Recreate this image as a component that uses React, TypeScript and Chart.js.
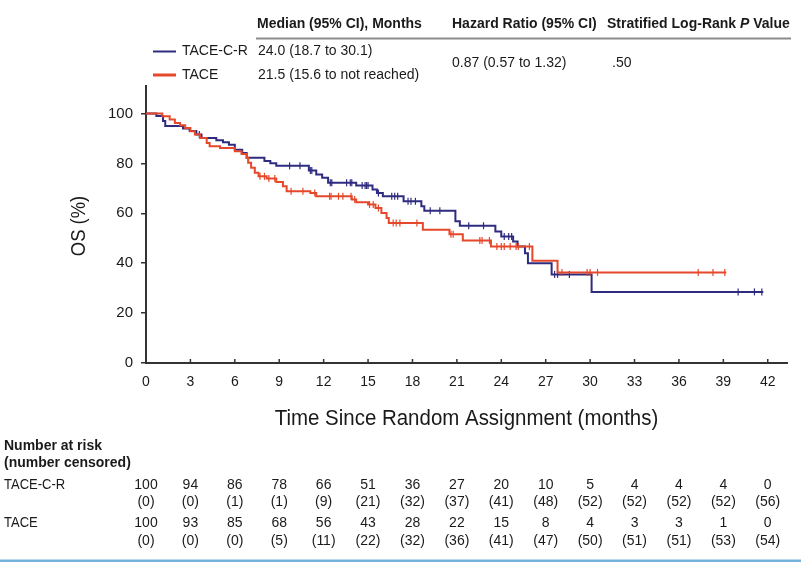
import React, { useEffect, useRef } from "react";
import { Chart, registerables } from "chart.js";

Chart.register(...registerables);

const FONT = "'Liberation Sans', Arial, Helvetica, sans-serif";
const BLUE = "#2f2c80";
const RED = "#e5482a";
const AXIS = "#333333";
const TEXT = "#1a1a1a";

// Kaplan-Meier steps: time (months) and OS (%) after each drop
const tacecrTimes = [0, 0.7, 1.15, 1.3, 2.5, 2.95, 3.4, 3.75, 4.75, 5.2, 5.6, 6.0, 6.5, 6.8, 8.0, 8.4, 8.8, 11.0, 11.5, 11.9, 12.3, 14.2, 15.3, 15.6, 16.0, 17.4, 18.6, 18.8, 20.9, 21.2, 23.6, 24.0, 24.8, 25.1, 25.6, 25.8, 27.4, 30.1, 41.7];
const tacecrSurv = [100, 99, 97, 95, 94, 93, 91.6, 90.2, 89.3, 88.5, 87.5, 85.5, 84.2, 82.2, 80.9, 80, 79, 77.1, 75.5, 74.2, 72.2, 71.1, 69.5, 68.1, 66.8, 64.8, 62.8, 61, 56.8, 55, 52.7, 50.7, 48.7, 46.7, 44, 40, 35.5, 28.5, 28.5];
const tacecrCensorTimes = [3.6, 9.7, 10.4, 11.1, 11.2, 12.45, 12.55, 13.55, 13.8, 13.9, 14.6, 14.8, 14.9, 15.0, 15.7, 16.6, 16.8, 17.0, 17.7, 17.9, 18.2, 19.2, 19.85, 21.8, 22.8, 24.2, 24.5, 24.7, 27.6, 27.8, 28.6, 40.0, 41.1, 41.6];

const taceTimes = [0, 1.1, 1.6, 1.95, 2.3, 2.65, 3.0, 3.3, 3.65, 4.1, 4.3, 5.0, 6.0, 6.45, 6.8, 6.9, 7.1, 7.35, 7.6, 8.15, 8.8, 9.25, 9.5, 11.1, 11.5, 13.9, 14.2, 15.0, 15.5, 15.9, 16.25, 16.4, 18.7, 20.5, 21.4, 23.3, 26.1, 27.8, 39.2];
const taceSurv = [100, 98.9, 97.6, 96.2, 95.3, 94.2, 92.9, 91.6, 90.2, 88.2, 86.9, 86.2, 84.9, 83.8, 82.2, 80.2, 78.2, 76.2, 74.8, 73.9, 72.5, 70.8, 68.8, 68.1, 66.8, 65.5, 64.4, 63.5, 62.1, 60.1, 58.1, 56.1, 53.4, 51.6, 49.1, 46.7, 41, 36.3, 36.3];
const taceCensorTimes = [7.7, 8.0, 8.3, 8.7, 9.8, 10.6, 11.4, 12.4, 12.5, 13.0, 13.3, 13.85, 14.1, 15.1, 15.35, 15.7, 16.7, 16.9, 17.15, 18.3, 20.6, 20.75, 22.55, 22.7, 23.2, 23.7, 24.0, 24.2, 24.6, 25.0, 25.15, 25.9, 28.1, 29.8, 30.0, 30.5, 37.3, 38.3, 39.1];

// Number at risk table
const riskTimes = [0, 3, 6, 9, 12, 15, 18, 21, 24, 27, 30, 33, 36, 39, 42];
const tacecrRisk = [100, 94, 86, 78, 66, 51, 36, 27, 20, 10, 5, 4, 4, 4, 0];
const tacecrCensored = [0, 0, 1, 1, 9, 21, 32, 37, 41, 48, 52, 52, 52, 52, 56];
const taceRisk = [100, 93, 85, 68, 56, 43, 28, 22, 15, 8, 4, 3, 3, 1, 0];
const taceCensored = [0, 0, 0, 5, 11, 22, 32, 36, 41, 47, 50, 51, 51, 53, 54];

const seriesNames = ["TACE-C-R", "TACE"];
const medians = ["24.0 (18.7 to 30.1)", "21.5 (15.6 to not reached)"];
const hazardRatio = "0.87 (0.57 to 1.32)";
const pValue = ".50";

function stepAt(times: number[], surv: number[], t: number) {
  let s = surv[0];
  for (let i = 0; i < times.length; i++) if (times[i] <= t) s = surv[i];
  return s;
}

function txt(ctx: CanvasRenderingContext2D, s: string, x: number, y: number, font: string, align: CanvasTextAlign = "left", color = TEXT, sx = 1) {
  ctx.save();
  ctx.translate(x, y);
  ctx.scale(sx, 1);
  ctx.font = font;
  ctx.fillStyle = color;
  ctx.textAlign = align;
  ctx.textBaseline = "middle";
  ctx.fillText(s, 0, 0);
  ctx.restore();
}

const decorPlugin = {
  id: "decor",
  afterDraw(chart: any) {
    const ctx: CanvasRenderingContext2D = chart.ctx;
    const xs = chart.scales.x;
    const area = chart.chartArea;
    const bold = `bold 14px ${FONT}`;
    const reg = `14px ${FONT}`;

    // header
    txt(ctx, "Median (95% CI), Months", 257, 24, bold);
    txt(ctx, "Hazard Ratio (95% CI)", 452, 24, bold);
    ctx.save();
    ctx.font = bold;
    let px = 607;
    const p1 = "Stratified Log-Rank ";
    txt(ctx, p1, px, 24, bold);
    px += ctx.measureText(p1).width;
    ctx.font = `italic bold 14px ${FONT}`;
    txt(ctx, "P", px, 24, `italic bold 14px ${FONT}`);
    px += ctx.measureText("P").width;
    txt(ctx, " Value", px, 24, bold);
    ctx.restore();
    ctx.fillStyle = "#8c8c8c";
    ctx.fillRect(256, 37.5, 535, 2);

    // legend rows
    const rowsY = [51.5, 75];
    const cols = [BLUE, RED];
    const lw = [2, 3];
    for (let i = 0; i < 2; i++) {
      ctx.strokeStyle = cols[i];
      ctx.lineWidth = lw[i];
      ctx.beginPath();
      ctx.moveTo(153, rowsY[i]);
      ctx.lineTo(176, rowsY[i]);
      ctx.stroke();
      txt(ctx, seriesNames[i], 182, rowsY[i], reg);
      txt(ctx, medians[i], 258, rowsY[i], reg);
    }
    txt(ctx, hazardRatio, 452, 63, reg);
    txt(ctx, pValue, 612, 63, reg);

    // inward x ticks
    ctx.strokeStyle = AXIS;
    ctx.lineWidth = 1.5;
    xs.ticks.forEach((t: any) => {
      const x = xs.getPixelForValue(t.value);
      ctx.beginPath();
      ctx.moveTo(x, area.bottom);
      ctx.lineTo(x, area.bottom - 4);
      ctx.stroke();
    });

    // axis titles
    txt(ctx, "Time Since Random Assignment (months)", (area.left + area.right) / 2, 419, `22px ${FONT}`, "center", TEXT, 0.93);
    ctx.save();
    ctx.translate(79, 226);
    ctx.rotate(-Math.PI / 2);
    txt(ctx, "OS (%)", 0, 0, `20px ${FONT}`, "center", TEXT, 0.92);
    ctx.restore();

    // risk table
    txt(ctx, "Number at risk", 4, 446, bold);
    txt(ctx, "(number censored)", 4, 463, bold);
    txt(ctx, seriesNames[0], 4, 485, reg, "left", TEXT, 0.93);
    txt(ctx, seriesNames[1], 4, 523, reg, "left", TEXT, 0.93);
    riskTimes.forEach((t, i) => {
      const x = xs.getPixelForValue(t);
      txt(ctx, String(tacecrRisk[i]), x, 485, reg, "center");
      txt(ctx, `(${tacecrCensored[i]})`, x, 502, reg, "center");
      txt(ctx, String(taceRisk[i]), x, 523, reg, "center");
      txt(ctx, `(${taceCensored[i]})`, x, 541, reg, "center");
    });

    // bottom rule
    ctx.fillStyle = "#74b4dc";
    ctx.fillRect(0, 559.5, 801, 2.5);
  },
};

export default function App() {
  const ref = useRef<HTMLCanvasElement>(null);
  useEffect(() => {
    if (!ref.current) return;
    Chart.defaults.font.family = FONT;
    const lineDs = (label: string, times: number[], surv: number[], color: string, order: number) => ({
      type: "line" as const,
      label,
      data: times.map((t, i) => ({ x: t, y: surv[i] })),
      stepped: true,
      borderColor: color,
      borderWidth: 2,
      pointRadius: 0,
      fill: false,
      order,
    });
    const censDs = (label: string, ct: number[], times: number[], surv: number[], color: string, order: number) => ({
      type: "scatter" as const,
      label,
      data: ct.map((t) => ({ x: t, y: stepAt(times, surv, t) })),
      showLine: false,
      pointStyle: "line",
      pointRotation: 90,
      pointRadius: 3.5,
      pointBorderColor: color,
      pointBackgroundColor: color,
      pointBorderWidth: 1.2,
      borderColor: color,
      order,
    });
    const chart = new Chart(ref.current, {
      type: "line",
      data: {
        datasets: [
          lineDs("TACE-C-R", tacecrTimes, tacecrSurv, BLUE, 4),
          censDs("TACE-C-R censored", tacecrCensorTimes, tacecrTimes, tacecrSurv, BLUE, 3),
          lineDs("TACE", taceTimes, taceSurv, RED, 2),
          censDs("TACE censored", taceCensorTimes, taceTimes, taceSurv, RED, 1),
        ] as any,
      },
      options: {
        responsive: false,
        animation: false,
        layout: { padding: { top: 86, right: 14, left: 0, bottom: 0 } },
        plugins: { legend: { display: false }, tooltip: { enabled: false } },
        scales: {
          x: {
            type: "linear",
            min: 0,
            max: 43.3,
            afterFit: (s: any) => {
              s.height = 200;
            },
            border: { display: true, color: AXIS, width: 2 },
            grid: { display: false, drawTicks: false },
            ticks: { stepSize: 3, includeBounds: false, autoSkip: false, maxRotation: 0, font: { size: 14, family: FONT }, color: TEXT, padding: 11 },
          },
          y: {
            type: "linear",
            min: 0,
            max: 111,
            afterFit: (s: any) => {
              s.width = 146;
            },
            border: { display: true, color: AXIS, width: 2 },
            grid: { drawOnChartArea: false, drawTicks: true, tickLength: 5, color: AXIS, lineWidth: 1.5 },
            ticks: { stepSize: 20, includeBounds: false, font: { size: 15, family: FONT }, color: TEXT, padding: 8 },
          },
        },
      } as any,
      plugins: [decorPlugin],
    });
    return () => chart.destroy();
  }, []);
  return (
    <div style={{ position: "absolute", left: 0, top: 0, width: 801, height: 563, background: "#fff" }}>
      <canvas ref={ref} width={801} height={563} style={{ display: "block" }} />
    </div>
  );
}
